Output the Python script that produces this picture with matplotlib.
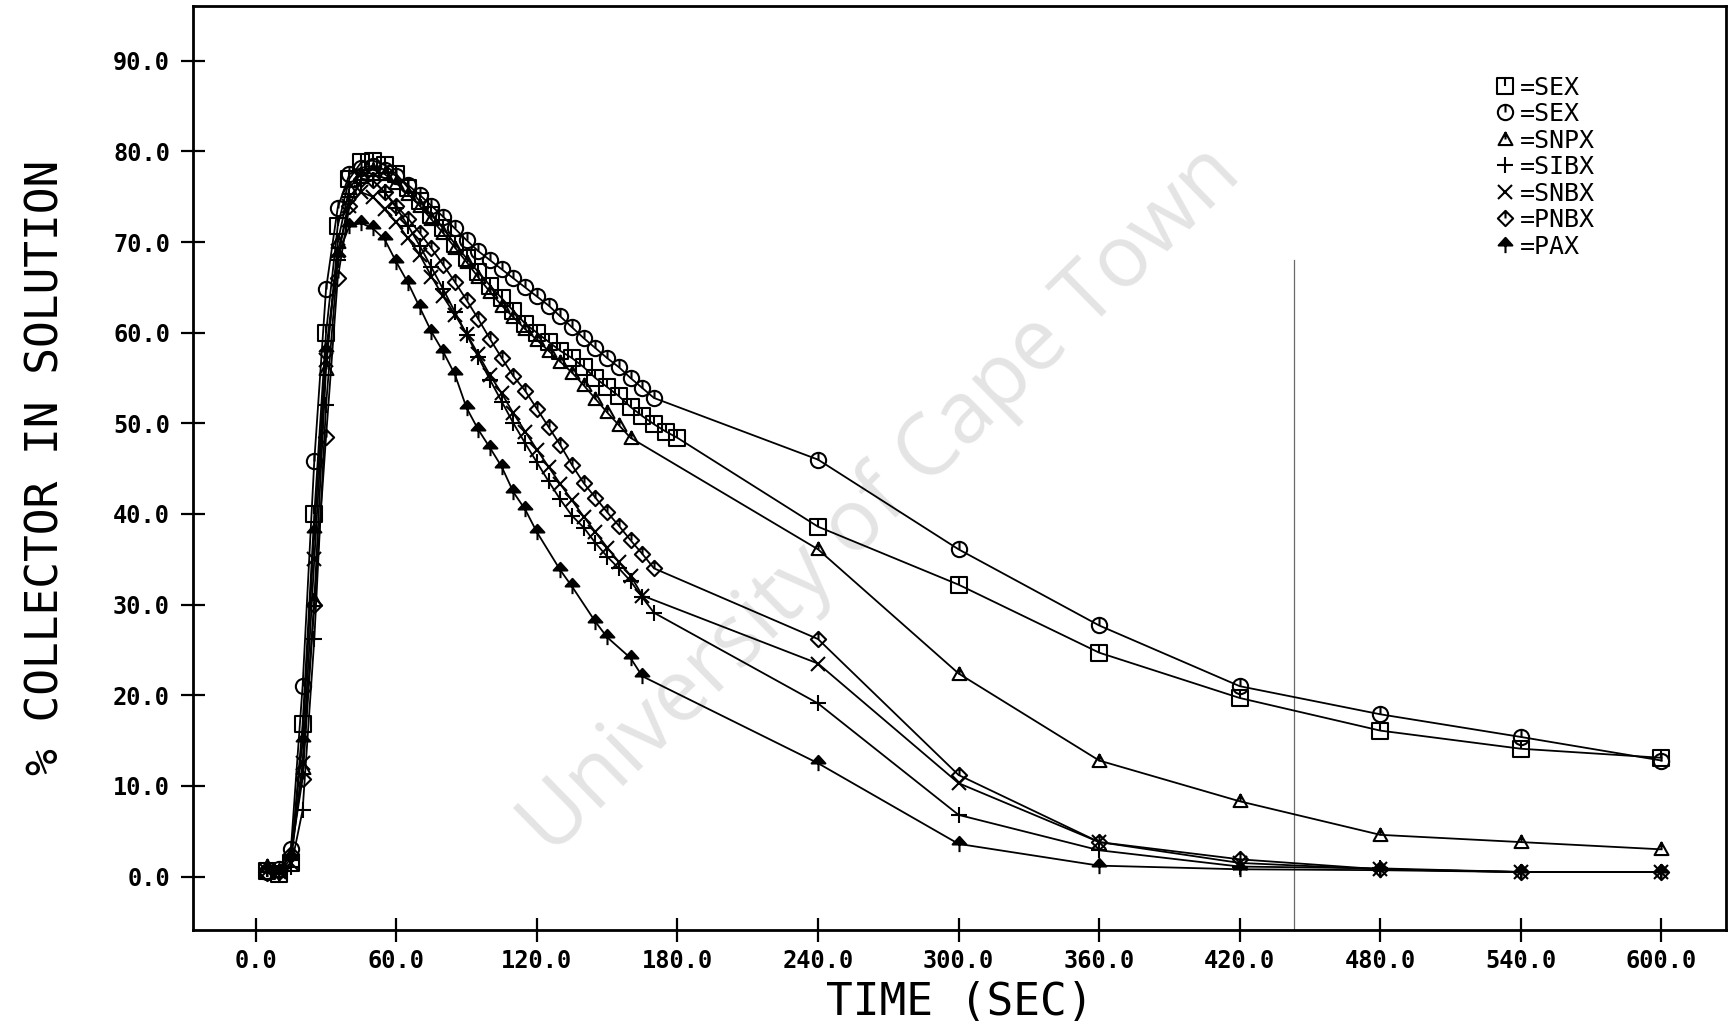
import matplotlib
matplotlib.use("Agg")
import matplotlib.pyplot as plt
from matplotlib.path import Path
from matplotlib.lines import Line2D

# ---- data: % collector remaining in solution vs time (s) ----
sex_sq_t = [5, 10, 15, 20, 25, 30, 35, 40, 45, 50, 55, 60, 65, 70, 75, 80, 85, 90, 95, 100,
            105, 110, 115, 120, 125, 130, 135, 140, 145, 150, 155, 160, 165, 170, 175, 180,
            240, 300, 360, 420, 480, 540, 600]
sex_sq_y = [0.6, 0.3, 1.5, 16.8, 40.0, 60.0, 71.8, 77.0, 78.8, 79.0, 78.5, 77.5, 76.0, 74.5,
            73.0, 71.5, 69.8, 68.2, 66.7, 65.2, 63.8, 62.4, 61.0, 60.0, 59.0, 58.0, 57.2, 56.2,
            55.0, 54.0, 53.0, 51.8, 50.8, 49.9, 49.1, 48.4,
            38.6, 32.2, 24.7, 19.7, 16.1, 14.1, 13.1]

sex_ci_t = [5, 10, 15, 20, 25, 30, 35, 40, 45, 50, 55, 60, 65, 70, 75, 80, 85, 90, 95, 100,
            105, 110, 115, 120, 125, 130, 135, 140, 145, 150, 155, 160, 165, 170,
            240, 300, 360, 420, 480, 540, 600]
sex_ci_y = [0.5, 0.8, 3.0, 21.0, 45.9, 64.8, 73.8, 77.5, 78.2, 78.4, 78.0, 77.3, 76.3, 75.2,
            74.0, 72.8, 71.5, 70.2, 69.0, 68.0, 67.0, 66.0, 65.0, 64.0, 63.0, 61.8, 60.6, 59.4,
            58.3, 57.2, 56.2, 55.0, 53.9, 52.8,
            46.0, 36.1, 27.7, 21.0, 17.9, 15.4, 12.8]

snpx_t = [5, 10, 15, 20, 25, 30, 35, 40, 45, 50, 55, 60, 65, 70, 75, 80, 85, 90, 95, 100,
          105, 110, 115, 120, 125, 130, 135, 140, 145, 150, 155, 160,
          240, 300, 360, 420, 480, 540, 600]
snpx_y = [1.2, 0.6, 2.5, 12.0, 30.5, 56.0, 70.0, 76.0, 77.5, 78.0, 77.5, 76.5, 75.3, 74.0,
          72.5, 71.0, 69.4, 67.8, 66.1, 64.5, 63.0, 61.7, 60.4, 59.2, 58.0, 56.8, 55.6, 54.2,
          52.7, 51.2, 49.8, 48.4,
          36.1, 22.4, 12.8, 8.3, 4.6, 3.8, 3.0]

sibx_t = [5, 10, 15, 20, 25, 30, 35, 40, 45, 50, 55, 60, 65, 70, 75, 80, 85, 90, 95, 100,
          105, 110, 115, 120, 125, 130, 135, 140, 145, 150, 155, 160, 165, 170,
          240, 300, 360, 420, 480, 540, 600]
sibx_y = [0.8, 0.3, 1.0, 7.3, 26.2, 52.0, 68.0, 75.0, 76.5, 76.8, 75.5, 73.8, 71.8, 69.6,
          67.2, 64.8, 62.3, 59.8, 57.3, 54.8, 52.4, 50.0, 47.8, 45.7, 43.6, 41.6, 39.8, 38.5,
          36.8, 35.3, 34.0, 32.6, 30.8, 29.1,
          19.1, 6.8, 2.9, 1.1, 0.9, 0.5, 0.5]

snbx_t = [5, 10, 15, 20, 25, 30, 35, 40, 45, 50, 55, 60, 65, 70, 75, 80, 85, 90, 95, 100,
          105, 110, 115, 120, 125, 130, 135, 140, 145, 150, 155, 160, 165,
          240, 300, 360, 420, 480, 540, 600]
snbx_y = [0.6, 0.5, 1.5, 12.5, 35.0, 57.0, 69.0, 74.0, 75.5, 75.0, 73.6, 72.2, 70.4, 68.6,
          66.2, 64.0, 62.0, 59.9, 57.6, 55.3, 53.3, 51.1, 49.1, 47.1, 45.2, 43.3, 41.5, 39.7,
          38.0, 36.3, 34.7, 33.2, 31.0,
          23.5, 10.3, 3.8, 1.5, 0.8, 0.5, 0.5]

pnbx_t = [5, 10, 15, 20, 25, 30, 35, 40, 45, 50, 55, 60, 65, 70, 75, 80, 85, 90, 95, 100,
          105, 110, 115, 120, 125, 130, 135, 140, 145, 150, 155, 160, 165, 170,
          240, 300, 360, 420, 480, 540, 600]
pnbx_y = [0.4, 0.5, 2.5, 10.8, 30.0, 48.5, 66.0, 74.0, 77.0, 76.8, 75.5, 74.0, 72.6, 71.0,
          69.3, 67.5, 65.6, 63.6, 61.5, 59.3, 57.2, 55.2, 53.6, 51.6, 49.6, 47.6, 45.4, 43.4,
          41.8, 40.2, 38.7, 37.1, 35.6, 34.0,
          26.2, 11.2, 3.8, 1.9, 0.8, 0.5, 0.5]

pax_t = [5, 10, 15, 20, 25, 30, 35, 40, 45, 50, 55, 60, 65, 70, 75, 80, 85, 90, 95, 100,
         105, 110, 115, 120, 130, 135, 145, 150, 160, 165,
         240, 300, 360, 420, 480, 540, 600]
pax_y = [0.8, 0.4, 2.0, 15.0, 38.0, 58.0, 68.5, 71.8, 72.1, 71.5, 70.3, 67.8, 65.5, 62.8,
         60.1, 57.9, 55.4, 51.7, 49.3, 47.3, 45.2, 42.4, 40.5, 38.0, 33.8, 32.0, 28.1, 26.4,
         24.1, 22.1,
         12.5, 3.6, 1.2, 0.8, 0.7, 0.5, 0.5]

series_labels = ["=SEX", "=SEX", "=SNPX", "=SIBX", "=SNBX", "=PNBX", "=PAX"]

x_ticks = [0, 60, 120, 180, 240, 300, 360, 420, 480, 540, 600]
y_ticks = [0, 10, 20, 30, 40, 50, 60, 70, 80, 90]

# faint vertical rule on the sheet
rule_x = 443
rule_top = 68

# ---- plotter-style marker symbols ----
M, L, C = Path.MOVETO, Path.LINETO, Path.CLOSEPOLY
stem = Path([(0, 1), (0, 0)], [M, L])


def with_stem(base):
    return Path.make_compound_path(base, stem)


sym_square = with_stem(Path([(-1, -1), (1, -1), (1, 1), (-1, 1), (-1, -1)], [M, L, L, L, C]))
sym_circle = with_stem(Path.unit_circle())
sym_triangle = with_stem(Path([(-1, -0.8), (1, -0.8), (0, 1), (-1, -0.8)], [M, L, L, C]))
sym_diamond = with_stem(Path([(0, 1), (1, 0), (0, -1), (-1, 0), (0, 1)], [M, L, L, L, C]))
sym_arrow = Path.make_compound_path(
    Path([(-0.9, 0.0), (0.9, 0.0), (0, 1), (-0.9, 0.0)], [M, L, L, C]),
    Path([(0, 0), (0, -1)], [M, L]))

styles = [
    dict(marker=sym_square, ms=11, mfc="none"),
    dict(marker=sym_circle, ms=11, mfc="none"),
    dict(marker=sym_triangle, ms=10, mfc="none"),
    dict(marker="+", ms=11, mfc="none"),
    dict(marker="x", ms=10, mfc="none"),
    dict(marker=sym_diamond, ms=11, mfc="none"),
    dict(marker=sym_arrow, ms=11, mfc="black"),
]

series = [(sex_sq_t, sex_sq_y), (sex_ci_t, sex_ci_y), (snpx_t, snpx_y), (sibx_t, sibx_y),
          (snbx_t, snbx_y), (pnbx_t, pnbx_y), (pax_t, pax_y)]

mono = "DejaVu Sans Mono"

fig = plt.figure(figsize=(17.29, 10.23), dpi=100)
ax = fig.add_axes([0.1116, 0.0909, 0.8866, 0.9037])

for (t, y), st in zip(series, styles):
    ax.plot(t, y, color="black", lw=1.3, mec="black", mew=1.5, zorder=3, **st)

ax.plot([rule_x, rule_x], [-10, rule_top], color="#6a6a6a", lw=0.9, zorder=2)

ax.text(267, 41.5, "University of Cape Town", rotation=44.5, rotation_mode="anchor",
        ha="center", va="center", fontsize=62, family="Open Sans", color="#e4e4e4",
        zorder=1)

ax.set_xlim(-26.8, 627.5)
ax.set_ylim(-5.9, 96.1)
ax.set_xticks(x_ticks)
ax.set_yticks(y_ticks)
ax.set_xticklabels([f"{v:.1f}" for v in x_ticks], family=mono, fontsize=17, fontweight="bold")
ax.set_yticklabels([f"{v:.1f}" for v in y_ticks], family=mono, fontsize=17, fontweight="bold")
ax.tick_params(direction="inout", length=17, width=1.6, pad=5)
ax.tick_params(axis="y", pad=8)

for sp in ax.spines.values():
    sp.set_linewidth(2.0)

ax.set_xlabel("TIME (SEC)", family=mono, fontsize=32, labelpad=6)
ax.set_ylabel("% COLLECTOR IN SOLUTION", family=mono, fontsize=32, labelpad=33)

handles = [Line2D([], [], linestyle="none", color="black", mec="black", mew=1.5, **st)
           for st in styles]
ax.legend(handles, series_labels, loc="upper left", bbox_to_anchor=(0.842, 0.935),
          frameon=False, handlelength=0.9, handletextpad=0.15, labelspacing=0.1,
          borderaxespad=0, prop=dict(family=mono, size=18))

fig.savefig("out.png", dpi=100)
